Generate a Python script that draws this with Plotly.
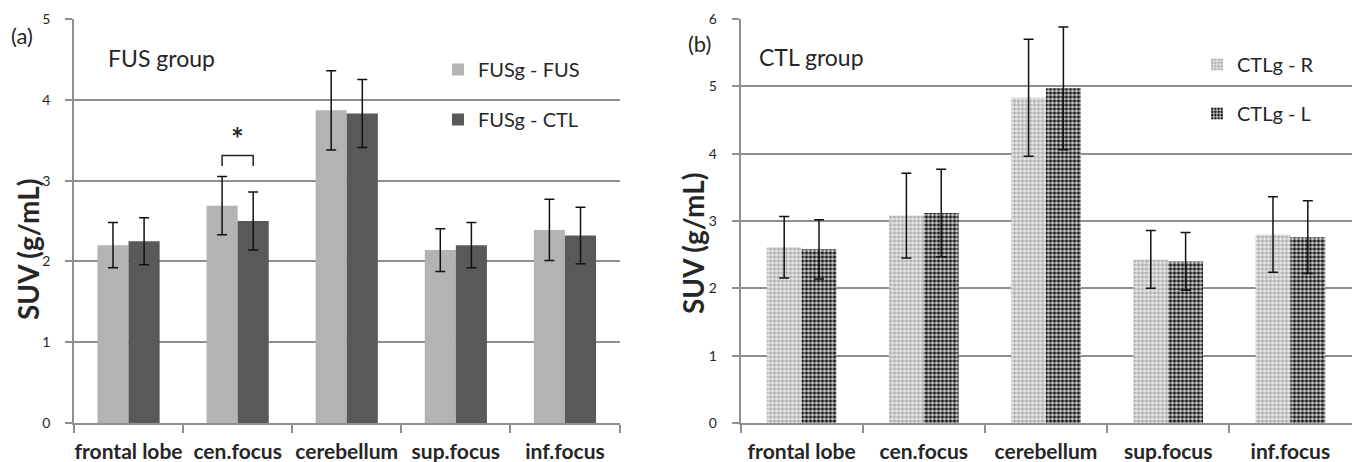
import plotly.graph_objects as go

# ---------------- data ----------------
regions = ["frontal lobe", "cen.focus", "cerebellum", "sup.focus", "inf.focus"]

fus_group_fus = [2.20, 2.69, 3.87, 2.14, 2.39]
fus_group_fus_err = [0.28, 0.36, 0.49, 0.265, 0.38]
fus_group_ctl = [2.25, 2.50, 3.83, 2.20, 2.32]
fus_group_ctl_err = [0.29, 0.36, 0.42, 0.28, 0.35]

ctl_group_r = [2.61, 3.08, 4.83, 2.43, 2.80]
ctl_group_r_err = [0.455, 0.63, 0.87, 0.43, 0.56]
ctl_group_l = [2.58, 3.12, 4.97, 2.40, 2.76]
ctl_group_l_err = [0.44, 0.65, 0.91, 0.43, 0.54]

left_ticks = [0, 1, 2, 3, 4, 5]
right_ticks = [0, 1, 2, 3, 4, 5, 6]

W, H = 1353, 462
FONT = "Lato"
GRID = "#8f8f8f"
TXT = "#262626"

def px_x(v):
    return v / W

def px_y(v):
    return 1 - v / H

fig = go.Figure()

err_style = dict(type="data", visible=True, color="#111111", thickness=1.5, width=5)

fig.add_trace(go.Bar(
    x=regions, y=fus_group_fus, name="FUSg - FUS",
    marker=dict(color="#b3b3b3", line=dict(width=0)),
    error_y=dict(array=fus_group_fus_err, **err_style),
    xaxis="x", yaxis="y", legend="legend", legendgroup="a1",
))
fig.add_trace(go.Bar(
    x=regions, y=fus_group_ctl, name="FUSg - CTL",
    marker=dict(color="#595959", line=dict(width=0)),
    error_y=dict(array=fus_group_ctl_err, **err_style),
    xaxis="x", yaxis="y", legend="legend", legendgroup="a2",
))
fig.add_trace(go.Bar(
    x=regions, y=ctl_group_r, name="CTLg - R",
    marker=dict(color="#ececec", line=dict(width=0),
                pattern=dict(shape=".", fgcolor="#b0b0b0", bgcolor="#ececec",
                             size=4, solidity=0.55, fillmode="replace")),
    error_y=dict(array=ctl_group_r_err, **err_style),
    xaxis="x2", yaxis="y2", legend="legend2", legendgroup="b1",
))
fig.add_trace(go.Bar(
    x=regions, y=ctl_group_l, name="CTLg - L",
    marker=dict(color="#d8d8d8", line=dict(width=0),
                pattern=dict(shape=".", fgcolor="#1a1a1a", bgcolor="#d8d8d8",
                             size=4, solidity=0.55, fillmode="replace")),
    error_y=dict(array=ctl_group_l_err, **err_style),
    xaxis="x2", yaxis="y2", legend="legend2", legendgroup="b2",
))

ydom = [px_y(423), px_y(19)]
xcommon = dict(
    type="category", showgrid=False, showline=True, linecolor=GRID, linewidth=1.5,
    ticks="outside", tickson="boundaries", ticklen=8, tickcolor=GRID, tickwidth=1.5,
    tickfont=dict(family=FONT, size=21, color=TXT, weight="bold"), tickangle=0,
    ticklabelstandoff=9, fixedrange=True, automargin=False,
)
ycommon = dict(
    showgrid=True, gridcolor=GRID, gridwidth=1.5, showline=True, linecolor=GRID,
    linewidth=1.5, ticks="outside", ticklen=7, tickcolor=GRID, tickwidth=1.5,
    tickfont=dict(family=FONT, size=14, color=TXT), zeroline=False,
    ticklabelstandoff=12, fixedrange=True, automargin=False,
)

fig.update_layout(
    width=W, height=H,
    margin=dict(l=0, r=0, t=0, b=0),
    paper_bgcolor="white", plot_bgcolor="white",
    barmode="group", bargap=0.43, bargroupgap=0,
    font=dict(family=FONT, color=TXT),
    xaxis=dict(domain=[px_x(74), px_x(619.5)], anchor="y", **xcommon),
    yaxis=dict(domain=ydom, anchor="x", range=[0, 5], tickvals=left_ticks, **ycommon),
    xaxis2=dict(domain=[px_x(740.5), px_x(1351.5)], anchor="y2", **xcommon),
    yaxis2=dict(domain=ydom, anchor="x2", range=[0, 6], tickvals=right_ticks, **ycommon),
    legend=dict(x=px_x(438), y=px_y(50), xanchor="left", yanchor="top",
                bgcolor="rgba(0,0,0,0)", tracegroupgap=21,
                font=dict(family=FONT, size=20, color=TXT)),
    legend2=dict(x=px_x(1197), y=px_y(45), xanchor="left", yanchor="top",
                 bgcolor="rgba(0,0,0,0)", tracegroupgap=20,
                 font=dict(family=FONT, size=20, color=TXT)),
    showlegend=True,
)

annos = [
    dict(text="(a)", x=px_x(21.5), y=px_y(35), font=dict(size=22)),
    dict(text="FUS group", x=px_x(106), y=px_y(58), xanchor="left", font=dict(size=23)),
    dict(text="(b)", x=px_x(699), y=px_y(43), font=dict(size=22)),
    dict(text="CTL group", x=px_x(757), y=px_y(57), xanchor="left", font=dict(size=23)),
    dict(text="SUV (g/mL)", x=px_x(28), y=px_y(250), textangle=-90,
         font=dict(size=28, weight="bold")),
    dict(text="SUV (g/mL)", x=px_x(693), y=px_y(244), textangle=-90,
         font=dict(size=28, weight="bold")),
]
for a in annos:
    a.setdefault("xanchor", "center")
    a.update(xref="paper", yref="paper", yanchor="middle", showarrow=False)
    a["font"] = dict(family=FONT, color=TXT, **a["font"])
    fig.add_annotation(**a)

# significance bracket between the two cen.focus bars
i = regions.index("cen.focus")
half = (1 - 0.43) / 4  # offset of each bar centre from category centre
top_err = max(fus_group_fus[i] + fus_group_fus_err[i], fus_group_ctl[i] + fus_group_ctl_err[i])
b0 = top_err + 0.13
b1 = b0 + 0.13
fig.add_shape(type="path", xref="x", yref="y",
              path=f"M {i - half},{b0} L {i - half},{b1} L {i + half},{b1} L {i + half},{b0}",
              line=dict(color="#222222", width=1.5))
fig.add_annotation(text="*", x=i, y=b1 + 0.22, xref="x", yref="y", showarrow=False,
                   font=dict(family=FONT, size=30, color=TXT, weight="bold"))

fig.write_html("out.html")
